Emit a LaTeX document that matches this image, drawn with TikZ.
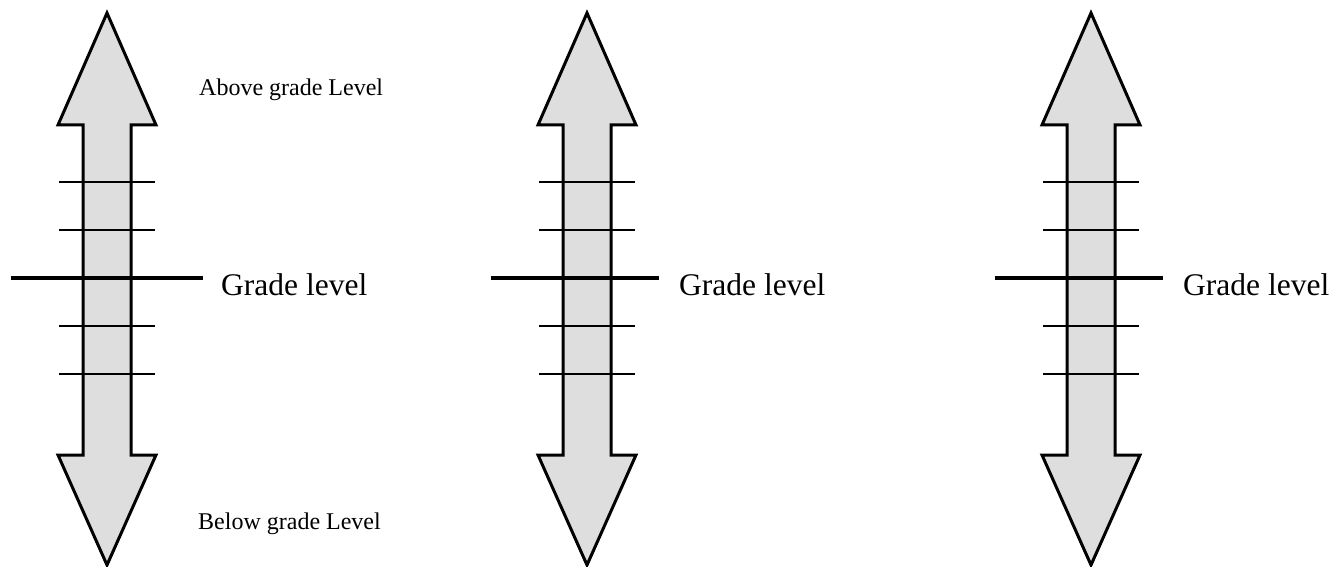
\documentclass[tikz,border=0pt]{standalone}
\usepackage{fontspec}
\setmainfont{Liberation Serif}
\definecolor{arrowfill}{HTML}{DEDEDE}
\begin{document}
\begin{tikzpicture}[x=1pt,y=-1pt,
  arrowbody/.style={draw=black,fill=arrowfill,line width=3pt,line join=miter},
  tickline/.style={draw=black,line width=2pt},
  gradeline/.style={draw=black,line width=4.5pt},
  biglabel/.style={anchor=base west,inner sep=0pt,font=\fontsize{31.5}{36}\selectfont},
  smalllabel/.style={anchor=base west,inner sep=0pt,font=\fontsize{24}{28}\selectfont}]
\useasboundingbox (0,0) rectangle (1334,567);
\foreach \cx/\gr/\lx/\nm in {107/96/221/a, 587/72/679/b, 1091/72/1183/c}{
  \fill[arrowfill] (\cx,13) -- (\cx+49,125) -- (\cx+24,125) -- (\cx+24,455) -- (\cx+49,455) -- (\cx,565) -- (\cx-49,455) -- (\cx-24,455) -- (\cx-24,125) -- (\cx-49,125) -- cycle;
  \foreach \ty in {182,230,326,374}{
    \draw[tickline] (\cx-48,\ty) -- (\cx+48,\ty);
  }
  \draw[gradeline] (\cx-96,278) -- (\cx+\gr,278);
  \draw[arrowbody,fill=none] (\cx,13) -- (\cx+49,125) -- (\cx+24,125) -- (\cx+24,455) -- (\cx+49,455) -- (\cx,565) -- (\cx-49,455) -- (\cx-24,455) -- (\cx-24,125) -- (\cx-49,125) -- cycle;
  \node[biglabel] (grade-\nm) at (\lx,295) {Grade level};
}
\node[smalllabel] (above) at (199,96) {Above grade Level};
\node[smalllabel] (below) at (198,529) {Below grade Level};
\end{tikzpicture}
\end{document}
